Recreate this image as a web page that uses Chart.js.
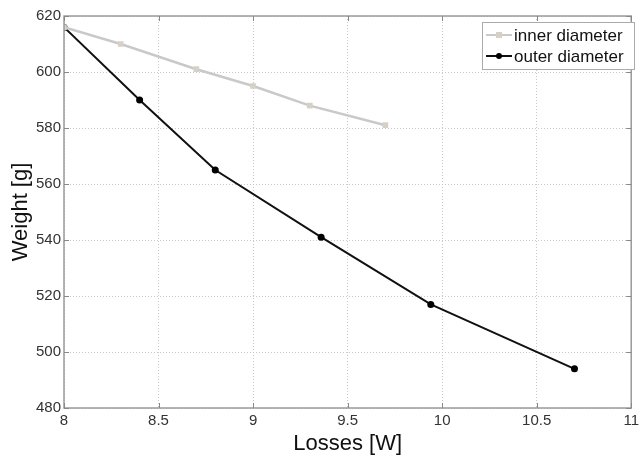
<!DOCTYPE html>
<html>
<head>
<meta charset="utf-8">
<script src="https://cdn.jsdelivr.net/npm/chart.js@4"></script>
<style>
    html, body { margin: 0; padding: 0; background: #fff; }
    #wrap { width: 643px; height: 457px; position: relative; }
</style>
</head>
<body>
<div id="wrap"><canvas id="lossChart"></canvas></div>
<script>
// values
const innerLosses = [8, 8.3, 8.7, 9, 9.3, 9.7];
const innerWeight = [616, 610, 601, 595, 588, 581];
const outerLosses = [8, 8.4, 8.8, 9.36, 9.94, 10.7];
const outerWeight = [616, 590, 565, 541, 517, 494];
const seriesNames = ["inner diameter", "outer diameter"];
const xTicks = [8, 8.5, 9, 9.5, 10, 10.5, 11];
const yTicks = [480, 500, 520, 540, 560, 580, 600, 620];

const toPoints = (xs, ys) => xs.map((x, i) => ({ x: x, y: ys[i] }));
const fontFamily = "'Liberation Sans', Arial, sans-serif";

// box around the axes, inward ticks and the legend, matlab style
const axesBox = {
    id: "axesBox",
    afterDraw(chart) {
        const { ctx, chartArea: a, scales } = chart;
        ctx.save();
        ctx.strokeStyle = "#9a9a9a";
        ctx.lineWidth = 1.5;
        ctx.strokeRect(a.left, a.top, a.right - a.left, a.bottom - a.top);

        // inward ticks
        ctx.lineWidth = 1;
        ctx.strokeStyle = "#888";
        xTicks.forEach(v => {
            const px = Math.round(scales.x.getPixelForValue(v)) + 0.5;
            ctx.beginPath();
            ctx.moveTo(px, a.bottom); ctx.lineTo(px, a.bottom - 5);
            ctx.moveTo(px, a.top); ctx.lineTo(px, a.top + 5);
            ctx.stroke();
        });
        yTicks.forEach(v => {
            const py = Math.round(scales.y.getPixelForValue(v)) + 0.5;
            ctx.beginPath();
            ctx.moveTo(a.left, py); ctx.lineTo(a.left + 5, py);
            ctx.moveTo(a.right, py); ctx.lineTo(a.right - 5, py);
            ctx.stroke();
        });

        // legend
        const bx = 482, by = 22, bw = 152, bh = 47;
        ctx.fillStyle = "#fff";
        ctx.fillRect(bx, by, bw, bh);
        ctx.strokeStyle = "#aaa";
        ctx.strokeRect(bx + 0.5, by + 0.5, bw, bh);
        ctx.font = "17px " + fontFamily;
        ctx.textBaseline = "middle";
        chart.data.datasets.forEach((ds, i) => {
            const ly = by + 13 + i * 21;
            ctx.strokeStyle = ds.borderColor;
            ctx.lineWidth = 2;
            ctx.beginPath();
            ctx.moveTo(bx + 4, ly); ctx.lineTo(bx + 30, ly);
            ctx.stroke();
            ctx.fillStyle = ds.pointBackgroundColor;
            if (ds.pointStyle === "rect") {
                ctx.fillRect(bx + 14, ly - 3, 6, 6);
            } else {
                ctx.beginPath();
                ctx.arc(bx + 17, ly, 3, 0, Math.PI * 2);
                ctx.fill();
            }
            ctx.fillStyle = "#111";
            ctx.fillText(ds.label, bx + 32, ly + 1);
        });
        ctx.restore();
    }
};

new Chart(document.getElementById("lossChart"), {
    type: "scatter",
    data: {
        datasets: [{
            label: seriesNames[0],
            data: toPoints(innerLosses, innerWeight),
            showLine: true,
            borderColor: "#c9c9c9",
            borderWidth: 2.5,
            pointStyle: "rect",
            pointRadius: 4,
            pointBackgroundColor: "#d6d1c7",
            pointBorderColor: "#d6d1c7",
            pointBorderWidth: 0
        }, {
            label: seriesNames[1],
            data: toPoints(outerLosses, outerWeight),
            showLine: true,
            borderColor: "#111",
            borderWidth: 2,
            pointStyle: "circle",
            pointRadius: 3.5,
            pointBackgroundColor: "#000",
            pointBorderColor: "#000",
            pointBorderWidth: 0
        }]
    },
    options: {
        responsive: true,
        maintainAspectRatio: false,
        animation: false,
        layout: { padding: { top: 16, right: 6, left: 0, bottom: 0 } },
        scales: {
            x: {
                type: "linear",
                min: 8,
                max: 11,
                afterBuildTicks: s => { s.ticks = xTicks.map(v => ({ value: v })); },
                afterFit: s => { s.height = 49; },
                ticks: {
                    color: "#333",
                    padding: 4,
                    callback: v => String(v),
                    font: { family: fontFamily, size: 15 }
                },
                grid: { color: "#c8c8c8", lineWidth: 1, drawTicks: false },
                border: { display: false, dash: [1, 2] },
                title: {
                    display: true,
                    text: "Losses [W]",
                    color: "#111",
                    padding: { top: 0, bottom: 0 },
                    font: { family: fontFamily, size: 22 }
                }
            },
            y: {
                min: 480,
                max: 620,
                afterBuildTicks: s => { s.ticks = yTicks.map(v => ({ value: v })); },
                afterFit: s => { s.width = 64; },
                ticks: {
                    color: "#333",
                    padding: 3,
                    callback: v => String(v),
                    font: { family: fontFamily, size: 15 }
                },
                grid: { color: "#c8c8c8", lineWidth: 1, drawTicks: false },
                border: { display: false, dash: [1, 2] },
                title: {
                    display: true,
                    text: "Weight [g]",
                    color: "#111",
                    padding: { top: 8, bottom: 0 },
                    font: { family: fontFamily, size: 22 }
                }
            }
        },
        plugins: {
            legend: { display: false },
            tooltip: { enabled: false }
        }
    },
    plugins: [axesBox]
});
</script>
</body>
</html>
